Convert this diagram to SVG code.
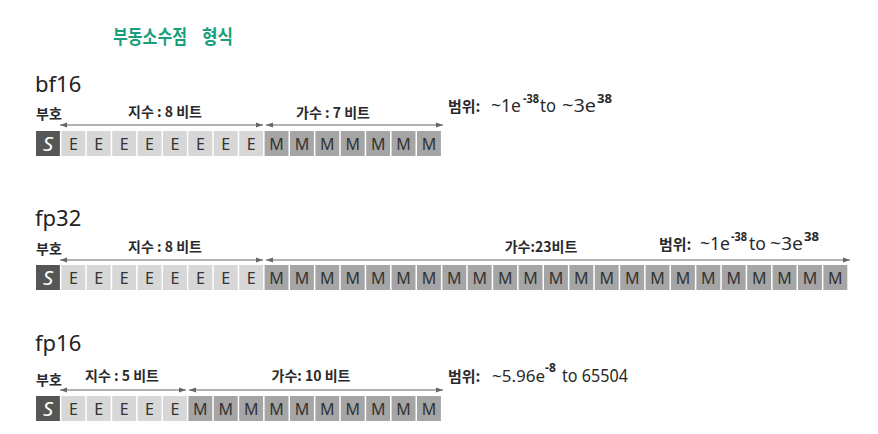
<svg xmlns="http://www.w3.org/2000/svg" width="878" height="434" viewBox="0 0 878 434">
<defs>
<style>
.bg{fill:#ffffff}
.title{font-family:"Noto Sans CJK KR","Noto Sans",sans-serif;font-size:19px;font-weight:bold;fill:#1a9f7a}
.fmt{font-family:"Noto Sans","Noto Sans CJK KR",sans-serif;font-size:22px;fill:#222222}
.lbl{font-family:"Noto Sans CJK KR","Noto Sans",sans-serif;font-size:14px;font-weight:bold;fill:#2a2a2a}
.rk{font-family:"Noto Sans CJK KR","Noto Sans",sans-serif;font-size:15px;font-weight:bold;fill:#2a2a2a}
.rl{font-family:"Noto Sans","Noto Sans CJK KR",sans-serif;font-size:18px;fill:#2a2a2a}
.sup{font-family:"Noto Sans","Noto Sans CJK KR",sans-serif;font-size:12px;font-weight:bold;fill:#2a2a2a}
.s{fill:#565656}
.e{fill:#d7d7d7}
.m{fill:#a5a5a5}
.ts{font-family:"Noto Sans",sans-serif;font-size:20px;font-style:italic;fill:#ffffff;text-anchor:middle}
.tc{font-family:"Noto Sans",sans-serif;font-size:16px;fill:#333333;text-anchor:middle}
.arr{stroke:#666666;stroke-width:1.2;fill:none;marker-start:url(#ah);marker-end:url(#ah)}
</style>
<marker id="ah" markerUnits="userSpaceOnUse" markerWidth="7" markerHeight="6" refX="7" refY="3" orient="auto-start-reverse">
<path d="M0,0.5 L7,3 L0,5.5 z" fill="#666666"/>
</marker>
</defs>
<rect class="bg" x="0" y="0" width="878" height="434"/>
<g id="title">
<text class="title" x="113" y="44" textLength="74" lengthAdjust="spacingAndGlyphs">부동소수점</text>
<text class="title" x="202" y="44" textLength="31" lengthAdjust="spacingAndGlyphs">형식</text>
</g>

<g id="bf16">
<text class="fmt" x="35" y="92">bf16</text>
<text class="lbl" x="36" y="119">부호</text>
<text class="lbl" x="165" y="117" text-anchor="middle">지수 : 8 비트</text>
<text class="lbl" x="333" y="118" text-anchor="middle">가수 : 7 비트</text>
<text class="rk" x="448" y="112">범위:</text>
<text class="rl" x="491" y="112" textLength="30" lengthAdjust="spacingAndGlyphs">~1e</text>
<text class="sup" x="523" y="103" textLength="16" lengthAdjust="spacingAndGlyphs">-38</text>
<text class="rl" x="540" y="112" textLength="16" lengthAdjust="spacingAndGlyphs">to</text>
<text class="rl" x="562" y="112" textLength="34" lengthAdjust="spacingAndGlyphs">~3e</text>
<text class="sup" x="597" y="103" textLength="15" lengthAdjust="spacingAndGlyphs">38</text>
<rect class="s" x="36" y="131" width="23.9" height="25"/><text class="ts" x="47.95" y="151">S</text>
<rect class="e" x="61.4" y="131" width="23.9" height="25"/><text class="tc" x="73.35" y="149.5">E</text>
<rect class="e" x="86.8" y="131" width="23.9" height="25"/><text class="tc" x="98.75" y="149.5">E</text>
<rect class="e" x="112.2" y="131" width="23.9" height="25"/><text class="tc" x="124.15" y="149.5">E</text>
<rect class="e" x="137.6" y="131" width="23.9" height="25"/><text class="tc" x="149.55" y="149.5">E</text>
<rect class="e" x="163" y="131" width="23.9" height="25"/><text class="tc" x="174.95" y="149.5">E</text>
<rect class="e" x="188.4" y="131" width="23.9" height="25"/><text class="tc" x="200.35" y="149.5">E</text>
<rect class="e" x="213.8" y="131" width="23.9" height="25"/><text class="tc" x="225.75" y="149.5">E</text>
<rect class="e" x="239.2" y="131" width="23.9" height="25"/><text class="tc" x="251.15" y="149.5">E</text>
<rect class="m" x="264.6" y="131" width="23.9" height="25"/><text class="tc" x="276.55" y="149.5">M</text>
<rect class="m" x="290" y="131" width="23.9" height="25"/><text class="tc" x="301.95" y="149.5">M</text>
<rect class="m" x="315.4" y="131" width="23.9" height="25"/><text class="tc" x="327.35" y="149.5">M</text>
<rect class="m" x="340.8" y="131" width="23.9" height="25"/><text class="tc" x="352.75" y="149.5">M</text>
<rect class="m" x="366.2" y="131" width="23.9" height="25"/><text class="tc" x="378.15" y="149.5">M</text>
<rect class="m" x="391.6" y="131" width="23.9" height="25"/><text class="tc" x="403.55" y="149.5">M</text>
<rect class="m" x="417" y="131" width="23.9" height="25"/><text class="tc" x="428.95" y="149.5">M</text>
</g>

<g id="fp32">
<text class="fmt" x="35" y="226">fp32</text>
<text class="lbl" x="36" y="254">부호</text>
<text class="lbl" x="165" y="252" text-anchor="middle">지수 : 8 비트</text>
<text class="lbl" x="541" y="252" text-anchor="middle">가수:23비트</text>
<text class="rk" x="659" y="250">범위:</text>
<text class="rl" x="700" y="250" textLength="30" lengthAdjust="spacingAndGlyphs">~1e</text>
<text class="sup" x="731" y="241" textLength="16" lengthAdjust="spacingAndGlyphs">-38</text>
<text class="rl" x="749" y="250" textLength="17" lengthAdjust="spacingAndGlyphs">to</text>
<text class="rl" x="770" y="250" textLength="33" lengthAdjust="spacingAndGlyphs">~3e</text>
<text class="sup" x="804" y="241" textLength="15" lengthAdjust="spacingAndGlyphs">38</text>
<rect class="s" x="36" y="265" width="23.9" height="25"/><text class="ts" x="47.95" y="285">S</text>
<rect class="e" x="61.4" y="265" width="23.9" height="25"/><text class="tc" x="73.35" y="283.5">E</text>
<rect class="e" x="86.8" y="265" width="23.9" height="25"/><text class="tc" x="98.75" y="283.5">E</text>
<rect class="e" x="112.2" y="265" width="23.9" height="25"/><text class="tc" x="124.15" y="283.5">E</text>
<rect class="e" x="137.6" y="265" width="23.9" height="25"/><text class="tc" x="149.55" y="283.5">E</text>
<rect class="e" x="163" y="265" width="23.9" height="25"/><text class="tc" x="174.95" y="283.5">E</text>
<rect class="e" x="188.4" y="265" width="23.9" height="25"/><text class="tc" x="200.35" y="283.5">E</text>
<rect class="e" x="213.8" y="265" width="23.9" height="25"/><text class="tc" x="225.75" y="283.5">E</text>
<rect class="e" x="239.2" y="265" width="23.9" height="25"/><text class="tc" x="251.15" y="283.5">E</text>
<rect class="m" x="264.6" y="265" width="23.9" height="25"/><text class="tc" x="276.55" y="283.5">M</text>
<rect class="m" x="290" y="265" width="23.9" height="25"/><text class="tc" x="301.95" y="283.5">M</text>
<rect class="m" x="315.4" y="265" width="23.9" height="25"/><text class="tc" x="327.35" y="283.5">M</text>
<rect class="m" x="340.8" y="265" width="23.9" height="25"/><text class="tc" x="352.75" y="283.5">M</text>
<rect class="m" x="366.2" y="265" width="23.9" height="25"/><text class="tc" x="378.15" y="283.5">M</text>
<rect class="m" x="391.6" y="265" width="23.9" height="25"/><text class="tc" x="403.55" y="283.5">M</text>
<rect class="m" x="417" y="265" width="23.9" height="25"/><text class="tc" x="428.95" y="283.5">M</text>
<rect class="m" x="442.4" y="265" width="23.9" height="25"/><text class="tc" x="454.35" y="283.5">M</text>
<rect class="m" x="467.8" y="265" width="23.9" height="25"/><text class="tc" x="479.75" y="283.5">M</text>
<rect class="m" x="493.2" y="265" width="23.9" height="25"/><text class="tc" x="505.15" y="283.5">M</text>
<rect class="m" x="518.6" y="265" width="23.9" height="25"/><text class="tc" x="530.55" y="283.5">M</text>
<rect class="m" x="544" y="265" width="23.9" height="25"/><text class="tc" x="555.95" y="283.5">M</text>
<rect class="m" x="569.4" y="265" width="23.9" height="25"/><text class="tc" x="581.35" y="283.5">M</text>
<rect class="m" x="594.8" y="265" width="23.9" height="25"/><text class="tc" x="606.75" y="283.5">M</text>
<rect class="m" x="620.2" y="265" width="23.9" height="25"/><text class="tc" x="632.15" y="283.5">M</text>
<rect class="m" x="645.6" y="265" width="23.9" height="25"/><text class="tc" x="657.55" y="283.5">M</text>
<rect class="m" x="671" y="265" width="23.9" height="25"/><text class="tc" x="682.95" y="283.5">M</text>
<rect class="m" x="696.4" y="265" width="23.9" height="25"/><text class="tc" x="708.35" y="283.5">M</text>
<rect class="m" x="721.8" y="265" width="23.9" height="25"/><text class="tc" x="733.75" y="283.5">M</text>
<rect class="m" x="747.2" y="265" width="23.9" height="25"/><text class="tc" x="759.15" y="283.5">M</text>
<rect class="m" x="772.6" y="265" width="23.9" height="25"/><text class="tc" x="784.55" y="283.5">M</text>
<rect class="m" x="798" y="265" width="23.9" height="25"/><text class="tc" x="809.95" y="283.5">M</text>
<rect class="m" x="823.4" y="265" width="23.9" height="25"/><text class="tc" x="835.35" y="283.5">M</text>
</g>

<g id="fp16">
<text class="fmt" x="35" y="351">fp16</text>
<text class="lbl" x="36" y="385">부호</text>
<text class="lbl" x="122" y="381" text-anchor="middle">지수 : 5 비트</text>
<text class="lbl" x="311" y="381" text-anchor="middle">가수: 10 비트</text>
<text class="rk" x="448" y="382">범위:</text>
<text class="rl" x="492" y="382" style="font-size:17px">~5.96e<tspan class="sup" dy="-10">-8</tspan></text>
<text class="rl" x="562" y="382" textLength="66" lengthAdjust="spacingAndGlyphs">to 65504</text>
<rect class="s" x="36" y="396" width="23.9" height="25"/><text class="ts" x="47.95" y="416">S</text>
<rect class="e" x="61.4" y="396" width="23.9" height="25"/><text class="tc" x="73.35" y="414.5">E</text>
<rect class="e" x="86.8" y="396" width="23.9" height="25"/><text class="tc" x="98.75" y="414.5">E</text>
<rect class="e" x="112.2" y="396" width="23.9" height="25"/><text class="tc" x="124.15" y="414.5">E</text>
<rect class="e" x="137.6" y="396" width="23.9" height="25"/><text class="tc" x="149.55" y="414.5">E</text>
<rect class="e" x="163" y="396" width="23.9" height="25"/><text class="tc" x="174.95" y="414.5">E</text>
<rect class="m" x="188.4" y="396" width="23.9" height="25"/><text class="tc" x="200.35" y="414.5">M</text>
<rect class="m" x="213.8" y="396" width="23.9" height="25"/><text class="tc" x="225.75" y="414.5">M</text>
<rect class="m" x="239.2" y="396" width="23.9" height="25"/><text class="tc" x="251.15" y="414.5">M</text>
<rect class="m" x="264.6" y="396" width="23.9" height="25"/><text class="tc" x="276.55" y="414.5">M</text>
<rect class="m" x="290" y="396" width="23.9" height="25"/><text class="tc" x="301.95" y="414.5">M</text>
<rect class="m" x="315.4" y="396" width="23.9" height="25"/><text class="tc" x="327.35" y="414.5">M</text>
<rect class="m" x="340.8" y="396" width="23.9" height="25"/><text class="tc" x="352.75" y="414.5">M</text>
<rect class="m" x="366.2" y="396" width="23.9" height="25"/><text class="tc" x="378.15" y="414.5">M</text>
<rect class="m" x="391.6" y="396" width="23.9" height="25"/><text class="tc" x="403.55" y="414.5">M</text>
<rect class="m" x="417" y="396" width="23.9" height="25"/><text class="tc" x="428.95" y="414.5">M</text>
</g>

<g id="connectors">
<line class="arr" x1="60" y1="125" x2="263" y2="125"/>
<line class="arr" x1="266" y1="125" x2="443" y2="125"/>
<line class="arr" x1="60" y1="260" x2="263" y2="260"/>
<line class="arr" x1="266" y1="260" x2="850" y2="260"/>
<line class="arr" x1="60" y1="390" x2="186" y2="390"/>
<line class="arr" x1="189" y1="390" x2="443" y2="390"/>
</g>
</svg>
